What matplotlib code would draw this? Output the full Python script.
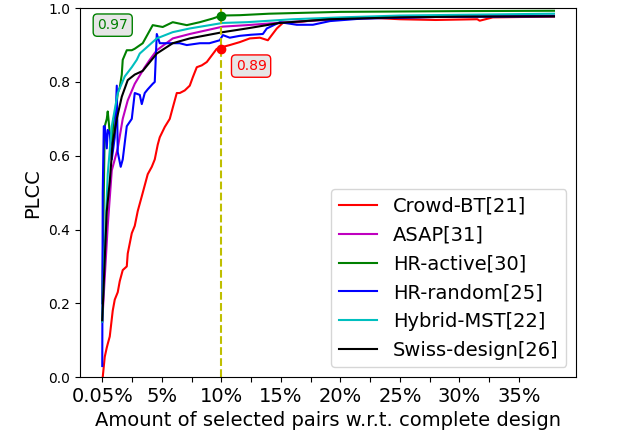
import matplotlib
matplotlib.use('Agg')
import matplotlib.pyplot as plt

# x in percent of the complete design (0 -> labelled 0.05%)
crowd_x = [0.04, 0.21, 0.38, 0.46, 0.63, 0.88, 1.05, 1.30, 1.47, 1.72, 2.06, 2.14, 2.48, 2.73, 2.98,
           3.32, 3.82, 4.16, 4.41, 4.66, 4.83, 5.25, 5.67, 5.92, 6.26, 6.51, 6.93, 7.35, 7.61, 7.94,
           8.36, 8.78, 9.20, 9.62, 10.0, 10.13, 10.71, 11.55, 12.39, 13.24, 13.91, 14.66, 15.17,
           16.34, 17.69, 19.12, 22.0, 25.0, 28.0, 31.5, 31.7, 32.8, 35.0, 37.94]
crowd_y = [0.0, 0.055, 0.08, 0.09, 0.11, 0.18, 0.21, 0.23, 0.26, 0.29, 0.30, 0.335, 0.39, 0.41, 0.45,
           0.49, 0.55, 0.57, 0.59, 0.63, 0.65, 0.678, 0.70, 0.73, 0.77, 0.77, 0.777, 0.79, 0.813, 0.84,
           0.845, 0.854, 0.872, 0.89, 0.89, 0.895, 0.90, 0.908, 0.918, 0.92, 0.913, 0.945, 0.96,
           0.962, 0.967, 0.972, 0.975, 0.97, 0.968, 0.97, 0.966, 0.975, 0.976, 0.977]

asap_x = [0, 0.21, 0.46, 0.80, 1.30, 1.72, 2.14, 2.73, 3.57, 3.99, 4.58, 5.92, 7.35, 10.13, 12.14,
          16.0, 20.0, 25.0, 30.0, 37.94]
asap_y = [0.15, 0.27, 0.41, 0.56, 0.62, 0.70, 0.75, 0.795, 0.84, 0.86, 0.886, 0.918, 0.93, 0.95, 0.954,
          0.963, 0.97, 0.975, 0.978, 0.98]

active_x = [0, 0.13, 0.21, 0.38, 0.46, 0.55, 0.63, 0.80, 0.96, 1.13, 1.30, 1.47, 1.64, 1.72, 2.06,
            2.48, 2.73, 3.40, 4.24, 5.08, 5.92, 7.10, 8.19, 9.29, 10.0, 11.55, 14.0, 20.0, 30.0, 37.94]
active_y = [0.2, 0.5, 0.68, 0.70, 0.72, 0.69, 0.66, 0.63, 0.70, 0.72, 0.77, 0.785, 0.82, 0.86, 0.886,
            0.886, 0.89, 0.905, 0.954, 0.949, 0.962, 0.954, 0.962, 0.972, 0.98, 0.981, 0.985, 0.99,
            0.992, 0.993]

random_x = [0, 0.04, 0.13, 0.21, 0.38, 0.46, 0.63, 0.80, 1.05, 1.22, 1.30, 1.55, 1.72, 2.06, 2.48,
            2.73, 3.15, 3.32, 3.57, 3.82, 4.24, 4.41, 4.58, 4.83, 5.5, 6.5, 7.1, 8.2, 9.0, 9.87,
            10.13, 10.71, 11.55, 12.5, 13.49, 13.82, 14.92, 16.34, 17.69, 19.12, 21.89, 28.0, 37.94]
random_y = [0.03, 0.5, 0.68, 0.68, 0.62, 0.67, 0.66, 0.59, 0.65, 0.79, 0.61, 0.57, 0.59, 0.68, 0.70,
            0.77, 0.765, 0.74, 0.77, 0.78, 0.795, 0.80, 0.93, 0.905, 0.905, 0.905, 0.90, 0.905, 0.905,
            0.913, 0.927, 0.92, 0.925, 0.928, 0.93, 0.945, 0.962, 0.955, 0.955, 0.965, 0.972, 0.976, 0.978]

mst_x = [0, 0.21, 0.46, 0.80, 1.30, 1.89, 2.48, 2.90, 3.15, 4.58, 5.92, 7.35, 10.13, 12.14, 16.0,
         20.0, 25.0, 30.0, 37.94]
mst_y = [0.15, 0.35, 0.55, 0.68, 0.77, 0.815, 0.84, 0.86, 0.877, 0.918, 0.935, 0.945, 0.96, 0.962,
         0.97, 0.975, 0.98, 0.982, 0.985]

swiss_x = [0, 0.21, 0.38, 0.63, 0.88, 1.22, 1.64, 2.14, 2.73, 3.40, 4.58, 5.92, 7.35, 10.13, 12.14,
           14.92, 19.12, 25.0, 30.0, 37.94]
swiss_y = [0.154, 0.32, 0.45, 0.53, 0.635, 0.70, 0.76, 0.805, 0.82, 0.83, 0.877, 0.905, 0.918, 0.935,
           0.945, 0.96, 0.97, 0.975, 0.977, 0.978]

tick_pos = [0, 2.5, 5, 7.5, 10, 12.5, 15, 17.5, 20, 22.5, 25, 27.5, 30, 32.5, 35]
tick_lab = ['0.05%', '', '5%', '', '10%', '', '15%', '', '20%', '', '25%', '', '30%', '', '35%']

fig, ax = plt.subplots(figsize=(6.38, 4.3), dpi=100)
fig.subplots_adjust(left=0.125, right=0.903, bottom=0.123, top=0.981)

ax.plot(crowd_x, crowd_y, 'r', label='Crowd-BT[21]')
ax.plot(asap_x, asap_y, 'm', label='ASAP[31]')
ax.plot(active_x, active_y, 'g', label='HR-active[30]')
ax.plot(random_x, random_y, 'b', label='HR-random[25]')
ax.plot(mst_x, mst_y, 'c', label='Hybrid-MST[22]')
ax.plot(swiss_x, swiss_y, 'k', label='Swiss-design[26]')

ax.axvline(10, color='y', linestyle='--')
ax.plot(10, 0.98, 'go', markersize=6)
ax.plot(10, 0.89, 'ro', markersize=6)

ax.text(0.88, 0.954, '0.97', color='g', ha='center', va='center', fontsize=10,
        bbox=dict(boxstyle='round', fc='#e6e6e6', ec='g'))
ax.text(12.5, 0.843, '0.89', color='r', ha='center', va='center', fontsize=10,
        bbox=dict(boxstyle='round', fc='#e6e6e6', ec='r'))

ax.set_xlim(-1.89, 39.8)
ax.set_ylim(0, 1)
ax.set_xticks(tick_pos)
ax.set_xticklabels(tick_lab, fontsize=14)
ax.set_xlabel('Amount of selected pairs w.r.t. complete design', fontsize=14)
ax.set_ylabel('PLCC', fontsize=14)
ax.legend(loc='lower right', fontsize=14)

fig.savefig('out.png', dpi=100)
